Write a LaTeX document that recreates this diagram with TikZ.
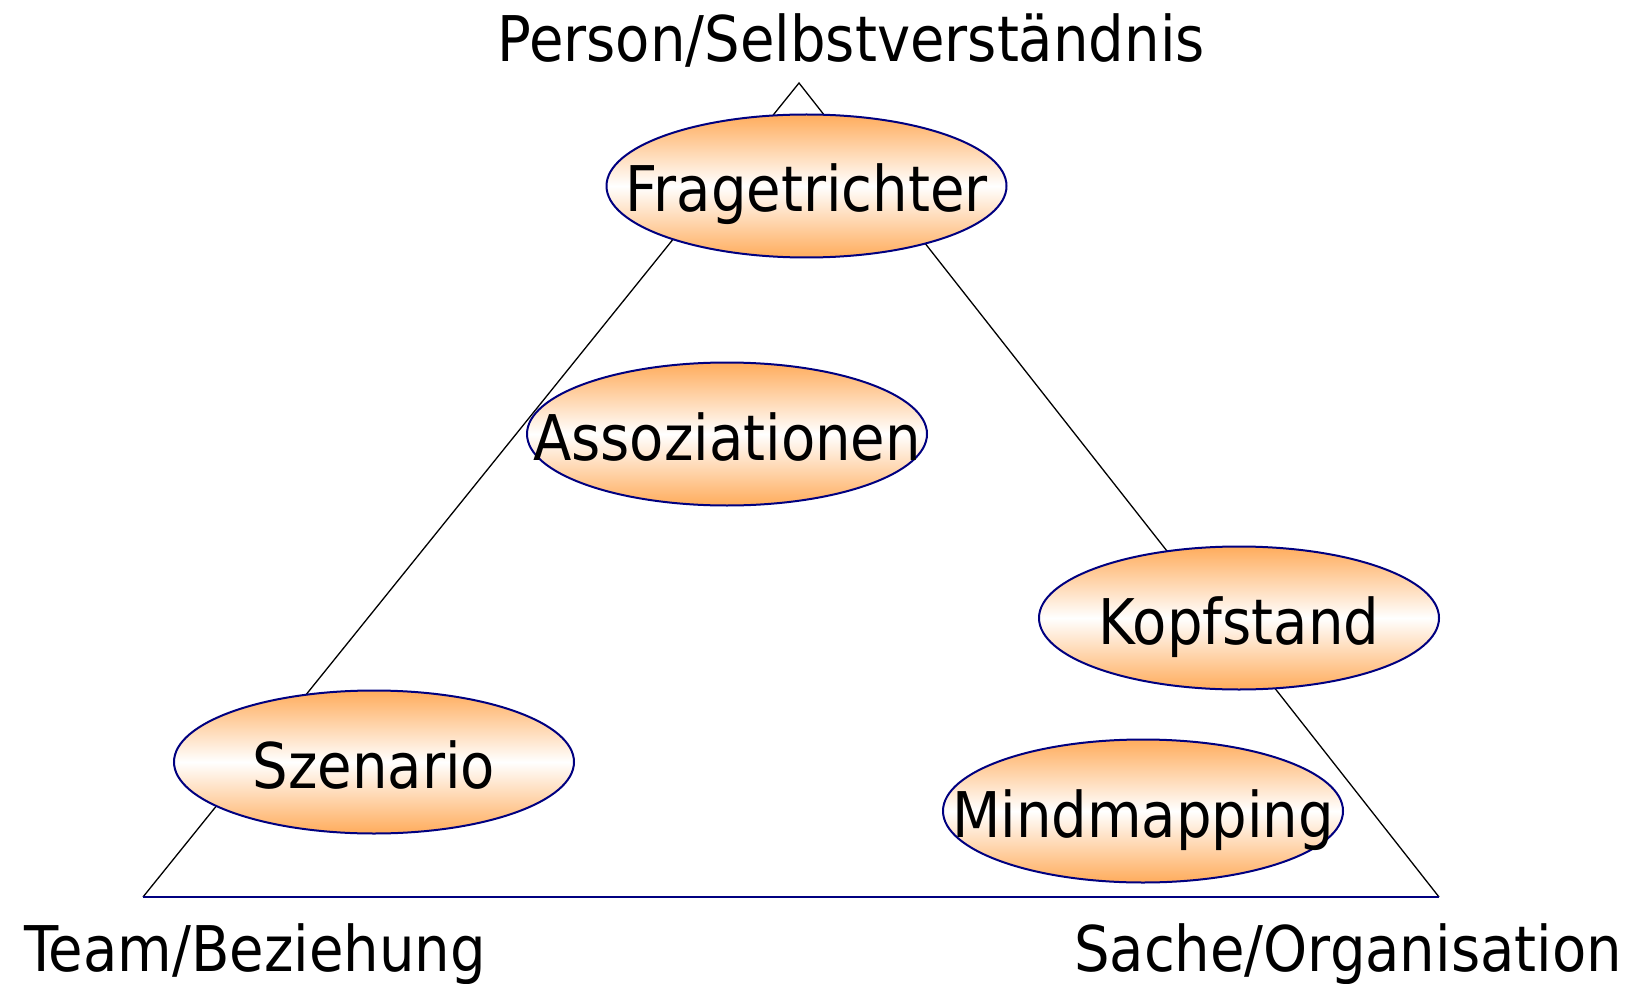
\documentclass[tikz,border=0pt]{standalone}
\usepackage{fontspec}
\setmainfont[FakeStretch=0.89]{DejaVu Sans}
\usetikzlibrary{shapes.geometric}
\definecolor{rim}{RGB}{0,0,128}
\definecolor{peach}{RGB}{255,172,92}
\newcommand{\nowidth}[1]{\raisebox{-26pt}[0pt][0pt]{\makebox[0pt]{#1}}}
\tikzset{
  bubble/.style={ellipse, draw=rim, line width=2pt, minimum width=400pt, minimum height=143pt,
    inner sep=0pt, top color=peach, bottom color=peach, middle color=white,
    font=\fontsize{63}{70}\selectfont, text=black},
  corner/.style={font=\fontsize{63}{70}\selectfont, inner sep=0pt, text=black},
  side/.style={line width=1.3pt, black},
}
\begin{document}
\begin{tikzpicture}[x=1pt,y=-1pt]
\useasboundingbox (0,0) rectangle (1635,984);
\coordinate (apex) at (799,83);
\coordinate (bl) at (143,897);
\coordinate (br) at (1439,897);
\draw[side] (bl) -- (apex) -- (br);
\draw[line width=1.3pt, rim] (bl) -- (br);
\node[bubble] (frage) at (806.5,186) {\nowidth{Fragetrichter}};
\node[bubble] (asso) at (727,434) {\nowidth{Assoziationen}};
\node[bubble] (kopf) at (1239,618) {\nowidth{Kopfstand}};
\node[bubble] (szen) at (374,762) {\nowidth{Szenario}};
\node[bubble] (mind) at (1143,811) {\nowidth{Mindmapping}};
\node[corner] (person) at (851,40) {Person/Selbstverständnis};
\node[corner] (team) at (255,954) {Team/Beziehung};
\node[corner] (sache) at (1348,954) {Sache/Organisation};
\end{tikzpicture}
\end{document}
